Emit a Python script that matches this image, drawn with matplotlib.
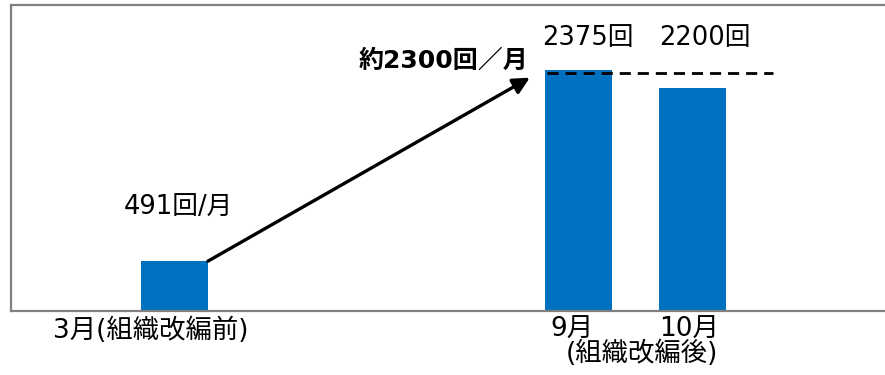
import matplotlib
matplotlib.use("Agg")
import matplotlib.pyplot as plt

plt.rcParams['font.family'] = ['DejaVu Sans', 'Noto Sans CJK JP']

# data
categories = ['3月(組織改編前)', '9月', '10月']
values = [491, 2375, 2200]
value_labels = ['491回/月', '2375回', '2200回']
positions = [0.0, 3.55, 4.55]
target_label = '約2300回／月'
target_value = 2345
arrow_value = 2300
group_label = '(組織改編後)'

BLUE = '#0070C0'
W, H = 885, 375
fig = plt.figure(figsize=(W / 100, H / 100), dpi=100)
ax = fig.add_axes([11 / W, 1 - 311 / H, (891 - 11) / W, (311 - 5) / H])

ax.bar(positions, values, width=0.588, color=BLUE, zorder=2)
ax.set_xlim(-1.434, 6.29)
ax.set_ylim(0, 3016)
ax.set_xticks([])
ax.set_yticks([])
for s in ax.spines.values():
    s.set_color('#808080')
    s.set_linewidth(1.6)

fs = 18.5
# value labels
ax.text(0.04, 950, value_labels[0], ha='center', va='baseline', fontsize=fs)
ax.text(3.63, 2620, value_labels[1], ha='center', va='baseline', fontsize=fs)
ax.text(4.66, 2620, value_labels[2], ha='center', va='baseline', fontsize=fs)
ax.text(2.36, 2400, target_label, ha='center', va='baseline', fontsize=18,
        fontweight='bold')

# dashed target line
ax.plot([3.27, 5.25], [target_value, target_value], ls=(0, (4, 2.5)),
        color='black', lw=2, zorder=3)

# arrow
ax.annotate('', xy=(3.12, arrow_value), xytext=(0.294, values[0]),
            arrowprops=dict(arrowstyle='-|>,head_length=1.0,head_width=0.5',
                            color='black', lw=2.4, shrinkA=0, shrinkB=0))

# category labels
cfs = 19
ax.text(-0.21, -60, categories[0], ha='center', va='top', fontsize=cfs,
        clip_on=False)
ax.text(3.49, -60, categories[1], ha='center', va='top', fontsize=cfs,
        clip_on=False)
ax.text(4.52, -60, categories[2], ha='center', va='top', fontsize=cfs,
        clip_on=False)
ax.text(4.10, -290, group_label, ha='center', va='top', fontsize=cfs,
        clip_on=False)

fig.savefig('out.png', dpi=100)
